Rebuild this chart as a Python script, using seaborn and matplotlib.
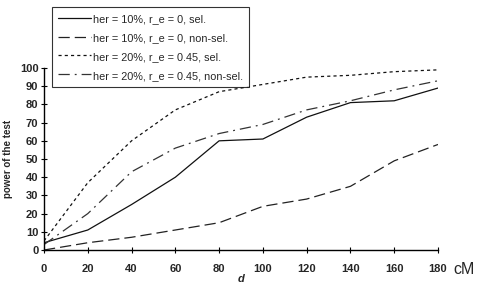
import numpy as np
import pandas as pd
import matplotlib
matplotlib.use("Agg")
import matplotlib.pyplot as plt
import seaborn as sns

# distance d (cM)
d = [0, 20, 40, 60, 80, 100, 120, 140, 160, 180]

# power of the test (%)
her10_sel = [4, 11, 25, 40, 60, 61, 73, 81, 82, 89]
her10_nonsel = [0, 4, 7, 11, 15, 24, 28, 35, 49, 58]
her20_sel = [5, 37, 60, 77, 87, 91, 95, 96, 98, 99]
her20_nonsel = [3, 20, 43, 56, 64, 69, 77, 82, 88, 93]

labels = ["her = 10%, r_e = 0, sel.",
          "her = 10%, r_e = 0, non-sel.",
          "her = 20%, r_e = 0.45, sel.",
          "her = 20%, r_e = 0.45, non-sel."]

df = pd.DataFrame({"d": d * 4,
                   "power": her10_sel + her10_nonsel + her20_sel + her20_nonsel,
                   "series": np.repeat(labels, len(d))})

sns.set_theme(style="ticks")
plt.rcParams["font.family"] = ["Liberation Sans", "DejaVu Sans"]

fig = plt.figure(figsize=(4.82, 2.92), dpi=100)
ax = fig.add_axes([0.0913, 0.1438, 0.8174, 0.6232])

dash_map = {labels[0]: "",
            labels[1]: (9, 4),
            labels[2]: (2.5, 2.5),
            labels[3]: (9, 4, 1.5, 4)}
color_map = {labels[0]: "#111111", labels[1]: "#222222",
             labels[2]: "#111111", labels[3]: "#333333"}

sns.lineplot(data=df, x="d", y="power", hue="series", style="series",
             palette=color_map, dashes=dash_map, linewidth=0.9, ax=ax,
             legend=False)

ax.set_xlim(0, 180)
ax.set_ylim(0, 100)
ax.set_xticks(range(0, 181, 20))
ax.set_yticks(range(0, 101, 10))
for lab in ax.get_xticklabels() + ax.get_yticklabels():
    lab.set_fontweight("bold")
    lab.set_fontsize(8)
ax.tick_params(axis="both", direction="inout", length=4, width=0.8,
               color="black", pad=2)
ax.tick_params(axis="x", pad=8)
sns.despine(ax=ax)
for s in ["left", "bottom"]:
    ax.spines[s].set_linewidth(1.0)
    ax.spines[s].set_color("black")

ax.set_xlabel("d", fontsize=8, fontweight="bold", fontstyle="italic", labelpad=0)
ax.set_ylabel("power of the test", fontsize=7, fontweight="bold", labelpad=5)
ax.text(1.04, -0.105, "cM", transform=ax.transAxes, fontsize=11.5,
        ha="left", va="center")

handles = [plt.Line2D([], [], color=color_map[l], linewidth=0.9,
                      dashes=dash_map[l] if dash_map[l] else (None, None))
           for l in labels]
handles[0] = plt.Line2D([], [], color="#111111", linewidth=0.9, linestyle="-")
leg = fig.legend(handles, labels, loc="upper left",
                 bbox_to_anchor=(0.108, 0.976), borderaxespad=0,
                 fontsize=7.8, frameon=True,
                 fancybox=False, edgecolor="black", handlelength=3.0,
                 handleheight=1.3, handletextpad=0.2, labelspacing=0.65,
                 borderpad=0.55)
leg.get_frame().set_linewidth(0.8)

fig.savefig("out.png", dpi=100)
